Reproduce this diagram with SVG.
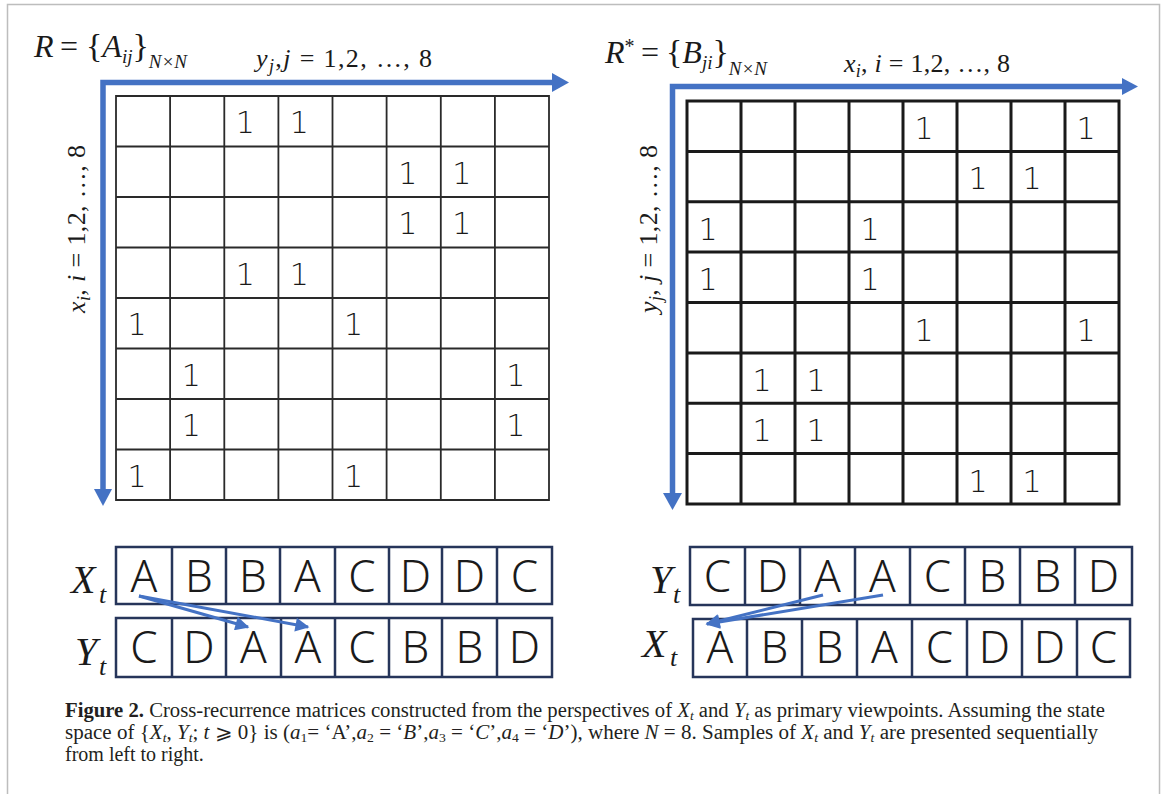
<svg xmlns="http://www.w3.org/2000/svg" width="1167" height="794" viewBox="0 0 1167 794">
<style>
.math{font-family:"Liberation Serif","DejaVu Serif",serif;fill:#1a1a1a}
.it{font-style:italic}
.one{font-family:"DejaVu Sans",sans-serif;font-weight:200;font-size:30px;fill:#1a1a1a;text-anchor:middle}
.let{font-family:"Noto Sans","DejaVu Sans",sans-serif;font-weight:300;font-size:44px;fill:#1a1a1a;text-anchor:middle}
.cell{fill:none;stroke:#26355a;stroke-width:2.5}
.axis{fill:none;stroke:#4472C4;stroke-width:5.5;stroke-linejoin:miter}
.head{fill:#4472C4}
.cap{font-family:"Liberation Serif","Times New Roman",serif;font-size:20px;fill:#231f20}
.conn{stroke:#4472C4;stroke-width:3;fill:none}
</style>
<defs>
<marker id="ah" viewBox="0 0 10 10" refX="9" refY="5" markerWidth="17" markerHeight="14" markerUnits="userSpaceOnUse" orient="auto">
<path d="M0,0 L10,5 L0,10 z" fill="#4472C4"/>
</marker>
</defs>
<rect x="0" y="0" width="1167" height="794" fill="#ffffff"/>
<rect x="7.5" y="4.5" width="1152" height="820" fill="#ffffff" stroke="#bdbdbd" stroke-width="1.5"/>

<!-- Left matrix -->
<g id="matrix-R">
<path d="M116,96V500M170.1,96V500M224.3,96V500M278.4,96V500M332.5,96V500M386.6,96V500M440.8,96V500M494.9,96V500M549,96V500M116,96H549M116,146.5H549M116,197H549M116,247.5H549M116,298H549M116,348.5H549M116,399H549M116,449.5H549M116,500H549" fill="none" stroke="#2a2a2a" stroke-width="1.8" stroke-linecap="square"/>
<text class="one" x="245.3" y="133">1</text><text class="one" x="299.4" y="133">1</text>
<text class="one" x="407.7" y="183.5">1</text><text class="one" x="461.8" y="183.5">1</text>
<text class="one" x="407.7" y="234">1</text><text class="one" x="461.8" y="234">1</text>
<text class="one" x="245.3" y="284.5">1</text><text class="one" x="299.4" y="284.5">1</text>
<text class="one" x="137.1" y="335">1</text><text class="one" x="353.6" y="335">1</text>
<text class="one" x="191.2" y="385.5">1</text><text class="one" x="515.9" y="385.5">1</text>
<text class="one" x="191.2" y="436">1</text><text class="one" x="515.9" y="436">1</text>
<text class="one" x="137.1" y="486.5">1</text><text class="one" x="353.6" y="486.5">1</text>
</g>

<!-- Right matrix -->
<g id="matrix-Rstar">
<path d="M687,101V504M741,101V504M795,101V504M849,101V504M903,101V504M957,101V504M1011,101V504M1065,101V504M1119,101V504M687,101H1119M687,151.4H1119M687,201.8H1119M687,252.1H1119M687,302.5H1119M687,352.9H1119M687,403.3H1119M687,453.6H1119M687,504H1119" fill="none" stroke="#1a1a1a" stroke-width="3" stroke-linecap="square"/>
<text class="one" x="924" y="139">1</text><text class="one" x="1086" y="139">1</text>
<text class="one" x="978" y="189.4">1</text><text class="one" x="1032" y="189.4">1</text>
<text class="one" x="708" y="239.8">1</text><text class="one" x="870" y="239.8">1</text>
<text class="one" x="708" y="290.1">1</text><text class="one" x="870" y="290.1">1</text>
<text class="one" x="924" y="340.5">1</text><text class="one" x="1086" y="340.5">1</text>
<text class="one" x="762" y="390.9">1</text><text class="one" x="816" y="390.9">1</text>
<text class="one" x="762" y="441.3">1</text><text class="one" x="816" y="441.3">1</text>
<text class="one" x="978" y="491.6">1</text><text class="one" x="1032" y="491.6">1</text>
</g>

<!-- Axes -->
<g id="axes">
<path class="axis" d="M103,490V82.5H553"/>
<polygon class="head" points="552,73 569,82.5 552,92"/>
<polygon class="head" points="94,489 103,506 112,489"/>
<path class="axis" d="M672.5,494V86.5H1123"/>
<polygon class="head" points="1122,78 1138,86.5 1122,95"/>
<polygon class="head" points="663,493 672.5,510 682,493"/>
</g>

<!-- Labels -->
<g id="label-R" class="math">
<text x="34" y="57" font-size="32"><tspan class="it">R</tspan><tspan x="60">=</tspan><tspan x="86" font-size="34">{</tspan><tspan class="it">A</tspan><tspan class="it" font-size="19" dy="6">ij</tspan><tspan font-size="34" dy="-6">}</tspan><tspan class="it" font-size="19" dy="11">N×N</tspan></text>
</g>
<g id="label-Rstar" class="math">
<text x="605" y="63" font-size="32"><tspan class="it">R</tspan><tspan font-size="20" dy="-10">*</tspan><tspan x="641" dy="10">=</tspan><tspan x="666" font-size="34">{</tspan><tspan class="it">B</tspan><tspan class="it" font-size="19" dy="6">ji</tspan><tspan font-size="34" dy="-6">}</tspan><tspan class="it" font-size="19" dy="12">N×N</tspan></text>
</g>
<g id="label-yj-top" class="math">
<text x="256" y="67" font-size="26" textLength="176" lengthAdjust="spacing"><tspan class="it">y</tspan><tspan class="it" font-size="18" dy="5">j</tspan><tspan dy="-5">,</tspan><tspan class="it">j</tspan> = 1,2, …, 8</text>
</g>
<g id="label-xi-top" class="math">
<text x="844" y="72" font-size="26" textLength="166" lengthAdjust="spacing"><tspan class="it">x</tspan><tspan class="it" font-size="18" dy="5">i</tspan><tspan dy="-5">, </tspan><tspan class="it">i</tspan> = 1,2, …, 8</text>
</g>
<g id="label-xi-side" class="math" transform="translate(85,313) rotate(-90)">
<text x="0" y="0" font-size="26" textLength="168" lengthAdjust="spacing"><tspan class="it">x</tspan><tspan class="it" font-size="18" dy="5">i</tspan><tspan dy="-5">, </tspan><tspan class="it">i</tspan> = 1,2, …, 8</text>
</g>
<g id="label-yj-side" class="math" transform="translate(657,313) rotate(-90)">
<text x="0" y="0" font-size="26" textLength="168" lengthAdjust="spacing"><tspan class="it">y</tspan><tspan class="it" font-size="18" dy="5">j</tspan><tspan dy="-5">, </tspan><tspan class="it">j</tspan> = 1,2, …, 8</text>
</g>

<!-- Sequences left -->
<g id="seq-left-X">
<text class="math it" x="71" y="593" font-size="40">X<tspan font-size="26" dy="10" x="99">t</tspan></text>
<rect class="cell" x="116" y="547" width="436" height="57"/>
<path class="cell" d="M172,547V604M226,547V604M280,547V604M335,547V604M389,547V604M442,547V604M497,547V604"/>
<text class="let" x="144" y="592">A</text><text class="let" x="199" y="592">B</text><text class="let" x="253" y="592">B</text><text class="let" x="307.5" y="592">A</text><text class="let" x="362" y="592">C</text><text class="let" x="415.5" y="592">D</text><text class="let" x="469.5" y="592">D</text><text class="let" x="524.5" y="592">C</text>
</g>
<g id="seq-left-Y">
<text class="math it" x="75" y="665" font-size="40">Y<tspan font-size="26" dy="10" x="99">t</tspan></text>
<rect class="cell" x="116" y="618" width="436" height="59"/>
<path class="cell" d="M172,618V677M226,618V677M281,618V677M335,618V677M389,618V677M442,618V677M497,618V677"/>
<text class="let" x="144" y="663">C</text><text class="let" x="199" y="663">D</text><text class="let" x="253.5" y="663">A</text><text class="let" x="308" y="663">A</text><text class="let" x="362" y="663">C</text><text class="let" x="415.5" y="663">B</text><text class="let" x="469.5" y="663">B</text><text class="let" x="524.5" y="663">D</text>
</g>

<!-- Sequences right -->
<g id="seq-right-Y">
<text class="math it" x="650" y="593" font-size="40">Y<tspan font-size="26" dy="10" x="673">t</tspan></text>
<rect class="cell" x="690" y="547" width="442" height="58"/>
<path class="cell" d="M745,547V605M800,547V605M855,547V605M910,547V605M965,547V605M1020,547V605M1075,547V605"/>
<text class="let" x="717.5" y="592">C</text><text class="let" x="772.5" y="592">D</text><text class="let" x="827.5" y="592">A</text><text class="let" x="882.5" y="592">A</text><text class="let" x="937.5" y="592">C</text><text class="let" x="992.5" y="592">B</text><text class="let" x="1047.5" y="592">B</text><text class="let" x="1103.5" y="592">D</text>
</g>
<g id="seq-right-X">
<text class="math it" x="642" y="657" font-size="40">X<tspan font-size="26" dy="9" x="670">t</tspan></text>
<rect class="cell" x="693" y="619" width="437" height="58"/>
<path class="cell" d="M747,619V677M802,619V677M857,619V677M912,619V677M967,619V677M1022,619V677M1077,619V677"/>
<text class="let" x="720" y="663">A</text><text class="let" x="774.5" y="663">B</text><text class="let" x="829.5" y="663">B</text><text class="let" x="884.5" y="663">A</text><text class="let" x="939.5" y="663">C</text><text class="let" x="994.5" y="663">D</text><text class="let" x="1049.5" y="663">D</text><text class="let" x="1103.5" y="663">C</text>
</g>

<!-- Connectors -->
<g id="connectors">
<line class="conn" x1="139" y1="596" x2="248" y2="627" marker-end="url(#ah)"/>
<line class="conn" x1="139" y1="596" x2="308" y2="627" marker-end="url(#ah)"/>
<line class="conn" x1="823" y1="595" x2="707" y2="624" marker-end="url(#ah)"/>
<line class="conn" x1="883" y1="595" x2="707" y2="624" marker-end="url(#ah)"/>
</g>

<!-- Caption -->
<g id="caption" class="cap">
<text x="65" y="717" textLength="1040" lengthAdjust="spacingAndGlyphs"><tspan font-weight="bold">Figure 2.</tspan> Cross-recurrence matrices constructed from the perspectives of <tspan font-style="italic">X</tspan><tspan font-style="italic" font-size="13" dy="3">t</tspan><tspan dy="-3"> and </tspan><tspan font-style="italic">Y</tspan><tspan font-style="italic" font-size="13" dy="3">t</tspan><tspan dy="-3"> as primary viewpoints. Assuming the state</tspan></text>
<text x="65" y="739" textLength="1033" lengthAdjust="spacingAndGlyphs">space of {<tspan font-style="italic">X</tspan><tspan font-style="italic" font-size="13" dy="3">t</tspan><tspan dy="-3">, </tspan><tspan font-style="italic">Y</tspan><tspan font-style="italic" font-size="13" dy="3">t</tspan><tspan dy="-3">; </tspan><tspan font-style="italic">t</tspan> ⩾ 0} is (<tspan font-style="italic">a</tspan><tspan font-size="13" dy="3">1</tspan><tspan dy="-3">= ‘A’,</tspan><tspan font-style="italic">a</tspan><tspan font-size="13" dy="3">2</tspan><tspan dy="-3"> = ‘</tspan><tspan font-style="italic">B</tspan>’,<tspan font-style="italic">a</tspan><tspan font-size="13" dy="3">3</tspan><tspan dy="-3"> = ‘</tspan><tspan font-style="italic">C</tspan>’,<tspan font-style="italic">a</tspan><tspan font-size="13" dy="3">4</tspan><tspan dy="-3"> = ‘</tspan><tspan font-style="italic">D</tspan>’), where <tspan font-style="italic">N</tspan> = 8. Samples of <tspan font-style="italic">X</tspan><tspan font-style="italic" font-size="13" dy="3">t</tspan><tspan dy="-3"> and </tspan><tspan font-style="italic">Y</tspan><tspan font-style="italic" font-size="13" dy="3">t</tspan><tspan dy="-3"> are presented sequentially</tspan></text>
<text x="65" y="761">from left to right.</text>
</g>
</svg>
